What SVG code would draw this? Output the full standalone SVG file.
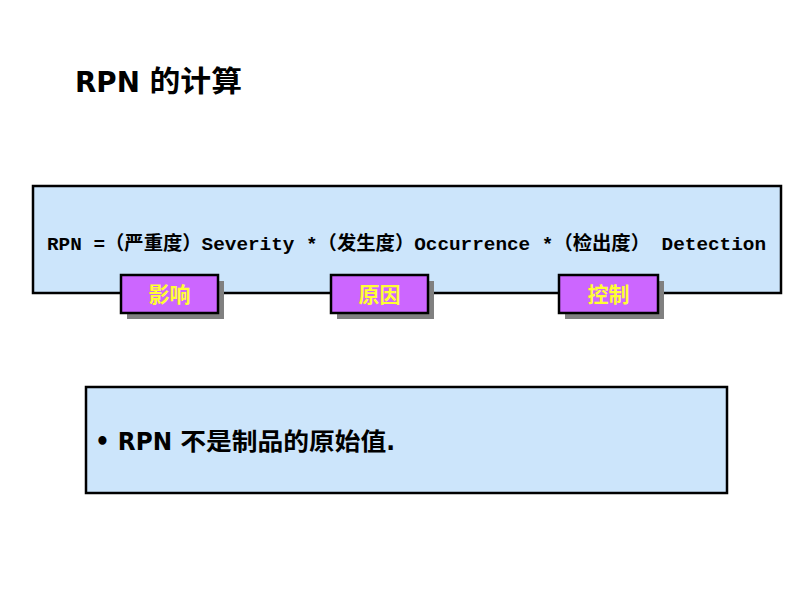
<svg xmlns="http://www.w3.org/2000/svg" width="800" height="600" viewBox="0 0 800 600">
<style>
.box{fill:#cce5fb;stroke:#000;stroke-width:2.5}
.tag{fill:#cc66ff;stroke:#000;stroke-width:2.5}
.shadow{fill:#808080}
.tagt{font-family:"Noto Sans CJK SC",sans-serif;font-weight:bold;font-size:21px;fill:#ffff33;text-anchor:middle}
.mono{font-family:"Liberation Mono","Noto Sans CJK SC",monospace;font-weight:bold;font-size:19px;fill:#000}
.title{font-family:"DejaVu Sans Condensed","DejaVu Sans","Noto Sans CJK SC",sans-serif;font-weight:bold;font-size:29px;fill:#000}
.body{font-family:"DejaVu Sans Condensed","DejaVu Sans","Noto Sans CJK SC",sans-serif;font-weight:bold;font-size:24px;fill:#000}
</style>
<rect width="800" height="600" fill="#fff"/>
<g id="title"><text class="title" x="75" y="92" textLength="167" lengthAdjust="spacingAndGlyphs">RPN 的计算</text></g>
<g id="formula">
<rect class="box" x="33" y="186" width="748" height="107"/>
<text class="mono" x="47" y="250" textLength="719" lengthAdjust="spacingAndGlyphs">RPN =（严重度）Severity *（发生度）Occurrence *（检出度） Detection</text>
</g>
<g id="tag1"><rect class="shadow" x="127" y="281" width="97" height="38"/><rect class="tag" x="121" y="275" width="97" height="38"/><text class="tagt" x="169.5" y="302">影响</text></g>
<g id="tag2"><rect class="shadow" x="337" y="281" width="97" height="38"/><rect class="tag" x="331" y="275" width="97" height="38"/><text class="tagt" x="379.5" y="302">原因</text></g>
<g id="tag3"><rect class="shadow" x="565" y="281" width="99" height="38"/><rect class="tag" x="559" y="275" width="99" height="38"/><text class="tagt" x="608.5" y="302">控制</text></g>
<g id="note">
<rect class="box" x="86" y="387" width="641" height="106"/>
<text class="body" x="95" y="450" textLength="300" lengthAdjust="spacingAndGlyphs">• RPN 不是制品的原始值.</text>
</g>
</svg>
